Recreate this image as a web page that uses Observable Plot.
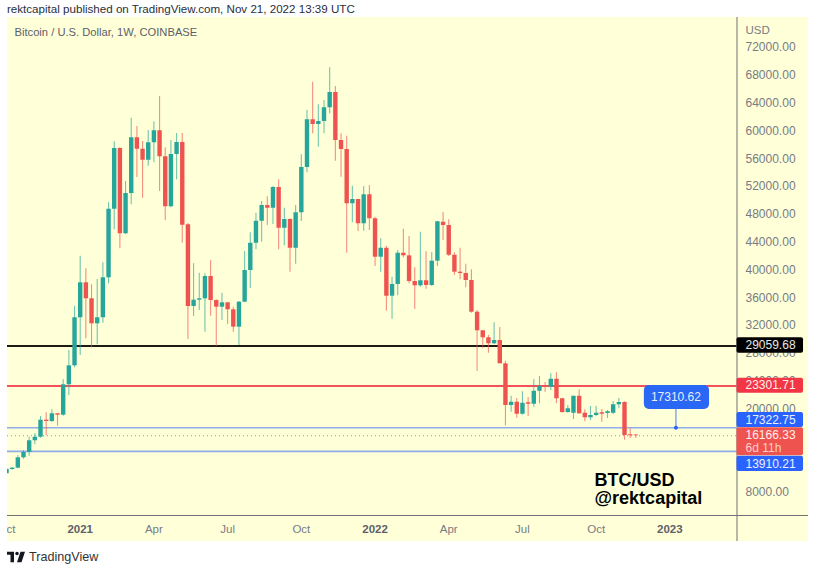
<!DOCTYPE html>
<html>
<head>
<meta charset="utf-8">
<script src="https://cdn.jsdelivr.net/npm/d3@7"></script>
<script src="https://cdn.jsdelivr.net/npm/@observablehq/plot@0.6"></script>
<style>
html,body{margin:0;padding:0;background:#fff;width:814px;height:568px;overflow:hidden;font-family:"Liberation Sans",Arial,sans-serif}
#head{position:absolute;left:7px;top:2px;font-size:11.6px;line-height:14px;color:#2a2e39;white-space:nowrap}
#chart{position:absolute;left:7px;top:17px}
#foot{position:absolute;left:7px;top:549px;display:flex;align-items:center;font-size:12.6px;line-height:16px;color:#333}
#foot svg{width:18px;height:12px;margin-right:4px}
</style>
</head>
<body>
<div id="head">rektcapital published on TradingView.com, Nov 21, 2022 13:39 UTC</div>
<div id="chart"></div>
<div id="foot"><svg viewBox="0 5 36 23"><path d="M14 6H0v6h7v15h7zM29 27l7-21h-9l-7 21z" fill="#131722"/><circle cx="20" cy="9.5" r="3.5" fill="#131722"/></svg>TradingView</div>
<script>
// Weekly candles, first bar 2020-10-05, last bar 2022-11-21
const open = [10690,11310,11500,12990,13750,15440,15950,18400,18210,19320,19120,23490,26220,
33130,38160,35860,32260,33130,38880,48750,57480,45210,51000,59010,57370,55790,58290,60020,56280,49090,56610,58340,
46500,34750,35660,35860,39070,35610,34650,35280,34280,31780,35370,39930,43860,47020,49280,48890,51870,46010,47260,43140,48230,54740,61600,60930,61360,63330,65530,58630,57330,49520,50140,46650,50820,47360,
41840,43140,36230,37920,42420,42040,38350,37730,38450,37770,41270,46880,46400,42130,39690,39500,38490,33930,31260,30250,29390,29860,26510,20510,20990,19260,
20900,20700,22570,23290,23150,24300,21480,19510,19410,21850,19400,18740,19080,19460,19360,19400,20610,20940,16300,16270];
const close = [11350,11500,12990,13750,15440,15950,18400,18210,19320,19120,23490,26220,33130,
38160,35860,32260,33130,38880,48750,57480,45210,51000,59010,57370,55790,58290,60020,56280,49090,56610,58340,46440,
34750,35660,35860,39070,35610,34650,35280,34280,31780,35370,39930,43860,47020,49280,48890,51870,46010,47260,43140,48230,54740,61600,60930,61360,63330,65530,58630,57330,49520,50140,46650,50820,47360,41840,
43140,36230,37920,42420,42040,38350,37730,38450,37770,41270,46930,46400,42130,39690,39500,38490,33930,31260,30250,29390,29860,26510,20510,20990,19260,20840,20700,
22570,23290,23150,24300,21480,19510,20040,21850,19320,18740,19080,19410,19260,19610,20610,20940,16200,16150,16166.33];
const high = [11350,11590,13320,14040,15950,16440,18930,19460,19900,19320,24250,28420,34790,
41990,40170,37870,38630,41040,49670,58440,57620,52730,61830,60640,58480,60060,61320,64950,57580,58630,59630,59630,
46690,40890,39540,39450,41370,35720,36660,35370,34650,35470,42660,45350,48170,49850,50530,52010,52970,48890,47370,49280,56570,62980,67010,63760,64380,69080,66390,59590,59240,52050,50140,52010,52150,47590,
44490,43420,38970,42810,45870,44820,40320,45440,42620,42520,46980,48270,47220,42480,43140,40830,40030,34180,31300,30580,32410,31730,26880,21850,21520,22480,21660,
24250,24680,23820,25070,25220,21560,20510,21850,22770,19900,20370,20370,19940,19790,21090,21520,21050,17180,16300];
const low = [10600,11210,11410,12790,13220,14860,15810,16160,18070,17540,18970,21950,25940,
27700,30110,28810,29240,32350,38020,45780,43050,45110,49380,53300,50330,54930,55420,51290,47120,48950,52970,43860,
30010,33310,34180,31060,33360,29000,32740,32160,31060,29140,35280,37340,42910,44000,46400,46540,42910,43480,39690,40830,46980,53980,59590,57660,59590,62470,55650,53350,42420,46790,45540,45580,45680,40500,
39690,34080,32930,36290,41750,38020,34320,37530,37240,37630,40500,44240,41940,39210,38590,37440,33790,25400,28670,28040,29290,26510,17590,19550,18690,19120,18930,
20270,20760,22430,22670,20760,19410,19410,18500,19220,18170,18360,18930,18110,18640,19220,20040,15520,15770,15810];

const weeks = d3.utcMonday.range(new Date("2020-10-05"), new Date("2022-11-22"));
const candles = weeks.map((date, i) => ({date, o: open[i], h: high[i], l: low[i], c: close[i], up: close[i] >= open[i]}));

const priceTicks = [72000,68000,64000,60000,56000,52000,48000,44000,40000,36000,32000,28000,24000,20000,8000];
const monthTicks = ["2020-10-05","2021-04-05","2021-07-05","2021-10-04","2022-04-04","2022-07-04","2022-10-03"].map(d => new Date(d));
const monthLabels = ["Oct","Apr","Jul","Oct","Apr","Jul","Oct"];
const yearTicks = ["2021-01-04","2022-01-03","2023-01-02"].map(d => new Date(d));
const yearLabels = ["2021","2022","2023"];

const levels = [
  {price: 29059.68, color: "#1c1c14", width: 2},
  {price: 23301.71, color: "#f4525a", width: 2},
  {price: 17322.75, color: "#91ade9", width: 1.6},
  {price: 13910.21, color: "#91ade9", width: 1.6}
];
const lastPrice = 16166.33;
const tags = [
  {top: 30250, bottom: 28035, at: 29143, text: "29059.68", fill: "#000000", ink: "#e8e8e8"},
  {top: 24438, bottom: 22281, at: 23388, text: "23301.71", fill: "#f23645", ink: "#fff0f0"},
  {top: 19506, bottom: 17349, at: 18427, text: "17322.75", fill: "#2962ff", ink: "#eaf0ff"},
  {top: 17305, bottom: 13278, at: 16198, text: "16166.33", fill: "#ef5350", ink: "#ffeeee"},
  {top: 13220, bottom: 11020, at: 12100, text: "13910.21", fill: "#2962ff", ink: "#eaf0ff"}
];
const countdown = {at: 14329, text: "6d 11h"};

const xStart = new Date("2020-10-06T06:00Z"), xEnd = new Date("2023-03-25T21:00Z");
const tagEnd = new Date("2023-06-16T00:00Z"), panelEnd = new Date("2023-06-22T07:00Z");
const yTop = 76315, yBottom = 4693, panelBottom = 952;
const FONT = '"Liberation Sans",Arial,sans-serif';
const GREY = "#787b86";
const BG = "#ffffd8";

const callout = {date: new Date("2023-01-09T12:00Z"), left: new Date("2022-12-01T12:00Z"), right: new Date("2023-02-20T00:00Z"), top: 23389, bottom: 19937, at: 21663, price: 17322.75, text: "17310.62"};

const plot = Plot.plot({
  width: 801, height: 524,
  marginLeft: 0, marginTop: 0, marginRight: 71.5, marginBottom: 26,
  style: {background: BG, overflow: "hidden", fontFamily: FONT},
  x: {type: "utc", domain: [xStart, xEnd], range: [0, 729.5], axis: null},
  y: {domain: [yBottom, yTop], range: [498, 0], axis: null},
  marks: [
    Plot.axisY({anchor: "right", ticks: priceTicks, tickSize: 0, tickPadding: 8.5, label: null, tickFormat: d => d.toFixed(2), fill: GREY, fontSize: 12, style: {letterSpacing: "0.3px"}}),
    Plot.axisX({anchor: "bottom", ticks: monthTicks, tickSize: 0, tickPadding: 9, label: null, fill: GREY, fontSize: 11.5,
      tickFormat: d => monthLabels[monthTicks.findIndex(t => +t === +d)], style: {letterSpacing: "0.3px"}}),
    Plot.axisX({anchor: "bottom", ticks: yearTicks, tickSize: 0, tickPadding: 9, label: null, fill: "#5d606b", fontSize: 11.5, fontWeight: "bold",
      tickFormat: d => yearLabels[yearTicks.findIndex(t => +t === +d)], style: {letterSpacing: "0.6px"}}),

    Plot.ruleY(levels, {y: "price", stroke: "color", strokeWidth: "width"}),
    Plot.ruleY([lastPrice], {stroke: "#ef5350", strokeWidth: 1, strokeDasharray: "1 3", strokeOpacity: 0.8}),

    Plot.ruleX(candles, {x: "date", y1: "l", y2: "h", stroke: d => d.up ? "#26a69a" : "#ef5350", strokeWidth: 1.1, strokeOpacity: 0.65, clip: true}),
    Plot.ruleX(candles, {x: "date", y1: "o", y2: "c", stroke: d => d.up ? "#26a69a" : "#ef5350", strokeWidth: 4.4, clip: true}),

    Plot.ruleX([xEnd], {y1: yTop, y2: panelBottom, stroke: "#6f7078", strokeWidth: 1}),
    Plot.ruleY([yBottom], {x1: xStart, x2: panelEnd, stroke: "#6f7078", strokeWidth: 1}),

    Plot.rect(tags, {x1: () => xEnd, x2: () => tagEnd, y1: "bottom", y2: "top", fill: "fill", rx: 2}),
    Plot.text(tags, {x: () => xEnd, y: "at", dx: 8.5, text: "text", fill: "ink", textAnchor: "start", fontSize: 12, style: {letterSpacing: "0.3px"}}),
    Plot.text([countdown], {x: () => xEnd, y: "at", dx: 8.5, text: "text", fill: "#fbd0cc", textAnchor: "start", fontSize: 12, style: {letterSpacing: "0.3px"}}),
    Plot.text(["USD"], {x: () => xEnd, y: () => 74445, dx: 8.5, text: d => d, fill: GREY, textAnchor: "start", fontSize: 11.5}),

    Plot.ruleX([callout], {x: "date", y1: "bottom", y2: "price", stroke: "#7ea0ea", strokeWidth: 1.4}),
    Plot.dot([callout], {x: "date", y: "price", r: 2, fill: "#2962ff"}),
    Plot.rect([callout], {x1: "left", x2: "right", y1: "bottom", y2: "top", fill: "#2a67f5", rx: 5}),
    Plot.text([callout], {x: "date", y: "at", text: "text", fill: "#e6edff", fontSize: 12, style: {letterSpacing: "0.3px"}}),

    Plot.text(["Bitcoin / U.S. Dollar, 1W, COINBASE"], {x: () => xStart, y: () => 74130, dx: 7, text: d => d, fill: "#5d606b", textAnchor: "start", fontSize: 11.2}),
    Plot.text(["BTC/USD"], {x: () => new Date("2022-10-01T00:00Z"), y: () => 9727, text: d => d, fill: "#000", fontWeight: "bold", textAnchor: "start", fontSize: 18}),
    Plot.text(["@rektcapital"], {x: () => new Date("2022-10-01T00:00Z"), y: () => 7138, text: d => d, fill: "#000", fontWeight: "bold", textAnchor: "start", fontSize: 18})
  ]
});
document.getElementById("chart").appendChild(plot);
</script>
</body>
</html>
